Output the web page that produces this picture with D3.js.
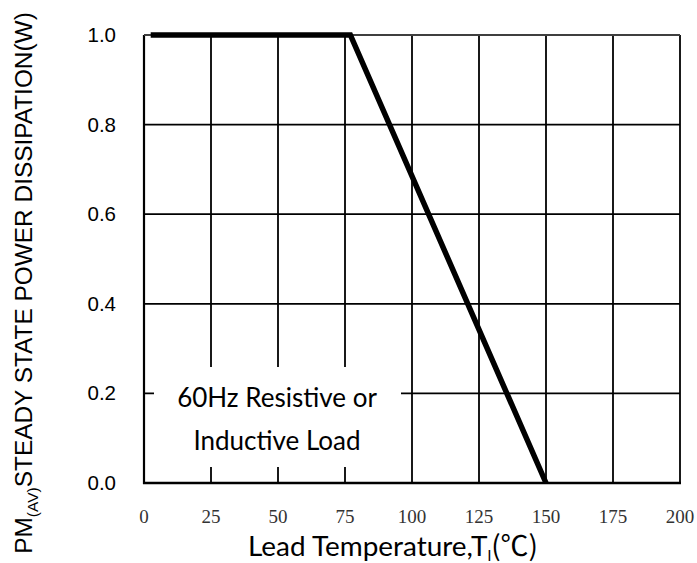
<!DOCTYPE html>
<html><head><meta charset="utf-8">
<script src="https://cdn.jsdelivr.net/npm/d3@7"></script>
<style>body{margin:0;background:#fff}svg{display:block}</style>
</head><body>
<script>
const temps = [2.5, 77, 150];
const power = [1.0, 1.0, 0.0];
const xTicks = [0, 25, 50, 75, 100, 125, 150, 175, 200];
const yTicks = [0, 0.2, 0.4, 0.6, 0.8, 1.0];
const noteLines = ["60Hz Resistive or", "Inductive Load"];

const W = 697, H = 563;
const m = {l:144, r:680, t:35, b:483};
const svg = d3.select("body").append("svg").attr("width", W).attr("height", H);
const x = d3.scaleLinear().domain([0,200]).range([m.l, m.r]);
const y = d3.scaleLinear().domain([0,1]).range([m.b, m.t]);

// grid
const g = svg.append("g");
g.selectAll(".vg").data(xTicks).enter().append("line")
  .attr("x1", d=>x(d)).attr("x2", d=>x(d)).attr("y1", m.t).attr("y2", m.b)
  .attr("stroke", "#000").attr("stroke-width", 1.8);
g.selectAll(".hg").data(yTicks).enter().append("line")
  .attr("x1", m.l).attr("x2", m.r).attr("y1", d=>y(d)).attr("y2", d=>y(d))
  .attr("stroke", "#000").attr("stroke-width", 1.8);

// annotation box (white, covering grid)
svg.append("rect").attr("x", 154).attr("y", 367).attr("width", 401-154)
  .attr("height", 467-367).attr("fill", "#fff");

// axes frame
svg.append("line").attr("x1", m.l).attr("x2", m.l).attr("y1", m.t).attr("y2", m.b+1)
  .attr("stroke", "#000").attr("stroke-width", 2.2);
svg.append("line").attr("x1", m.l-1).attr("x2", m.r+1).attr("y1", m.b).attr("y2", m.b)
  .attr("stroke", "#000").attr("stroke-width", 2.5);
svg.append("line").attr("x1", m.l).attr("x2", m.r).attr("y1", m.t).attr("y2", m.t)
  .attr("stroke", "#555").attr("stroke-width", 1.3);

// data line
svg.append("path").datum(temps.map((t,i)=>[t, power[i]]))
  .attr("d", d3.line().x(d=>x(d[0])).y(d=>y(d[1])))
  .attr("fill", "none").attr("stroke", "#000").attr("stroke-width", 5.5)
  .attr("stroke-linejoin", "miter");

// note text
svg.selectAll(".note").data(noteLines).enter().append("text")
  .attr("x", 277).attr("y", (d,i)=> 407 + i*43)
  .attr("text-anchor", "middle").attr("font-family", "Lato, 'Open Sans', sans-serif")
  .attr("font-size", 26).attr("fill", "#000").text(d=>d);

// x tick labels
svg.selectAll(".xt").data(xTicks).enter().append("text")
  .attr("x", d=>x(d)).attr("y", 523).attr("text-anchor", "middle")
  .attr("font-family", "'Liberation Serif', serif").attr("font-size", 19)
  .attr("fill", "#333").text(d=>d);

// y tick labels
svg.selectAll(".yt").data(yTicks).enter().append("text")
  .attr("x", 116).attr("y", d=>y(d)+7).attr("text-anchor", "end")
  .attr("font-family", "'Liberation Sans', Arial, sans-serif").attr("font-size", 20.5)
  .attr("fill", "#000").text(d=>d.toFixed(1));

// x title
const xt = svg.append("text").attr("x", 393).attr("y", 556).attr("text-anchor", "middle")
  .attr("font-family", "Lato, 'Open Sans', sans-serif").attr("font-size", 26).attr("fill", "#000");
xt.append("tspan").text("Lead Temperature,T");
xt.append("tspan").attr("font-size", 15).attr("dy", 5).text("l");
xt.append("tspan").attr("dy", -5).attr("font-family", "'Noto Sans CJK SC', sans-serif").text("(℃)");
(function(){ const w = xt.node().getComputedTextLength(); const s = 290 / w;
  xt.attr("font-size", 26*s); xt.select("tspan:nth-child(2)").attr("font-size", 15*s); })();

// y title
const yt = svg.append("text").attr("transform", "translate(32,283) rotate(-90)")
  .attr("text-anchor", "middle").attr("font-family", "'Liberation Sans', Arial, sans-serif")
  .attr("font-size", 22).attr("fill", "#000");
yt.append("tspan").text("PM");
yt.append("tspan").attr("font-size", 14).attr("dy", 6).text("(AV)");
yt.append("tspan").attr("dy", -6).text("STEADY STATE POWER DISSIPATION(W)");
(function(){ const w = yt.node().getComputedTextLength(); const s = 542 / w;
  yt.attr("font-size", 22*s); yt.select("tspan:nth-child(2)").attr("font-size", 14*s); })();
</script>
</body></html>
